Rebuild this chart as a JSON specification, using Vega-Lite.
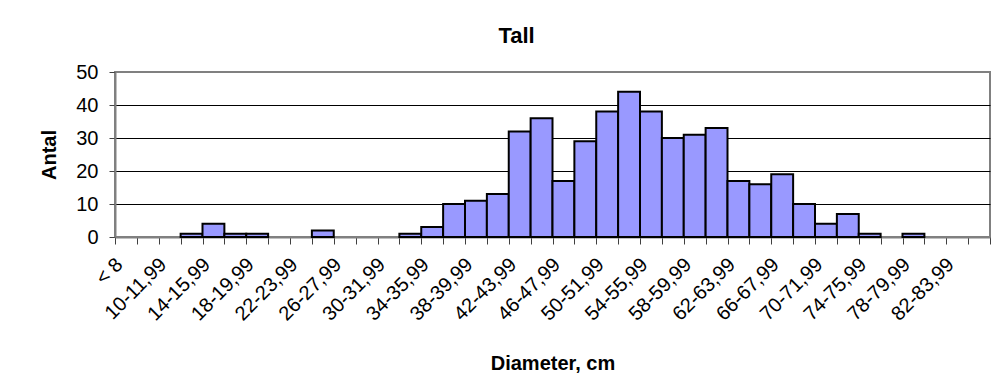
{
  "$schema": "https://vega.github.io/schema/vega-lite/v6.json",
  "width": 875,
  "height": 165,
  "autosize": {"type": "none"},
  "padding": {"left": 115, "top": 72, "right": 9, "bottom": 155},
  "background": "white",
  "config": {
    "font": "Liberation Sans",
    "view": {"stroke": "#808080", "strokeWidth": 2}
  },
  "title": {
    "text": "Tall",
    "font": "Liberation Sans",
    "fontSize": 22,
    "fontWeight": "bold",
    "color": "black",
    "anchor": "middle",
    "dx": -36,
    "offset": 14
  },
  "data": {
    "values": [
      {"Diameter": "< 8", "Antal": 0},
      {"Diameter": "8-9,99", "Antal": 0},
      {"Diameter": "10-11,99", "Antal": 0},
      {"Diameter": "12-13,99", "Antal": 1},
      {"Diameter": "14-15,99", "Antal": 4},
      {"Diameter": "16-17,99", "Antal": 1},
      {"Diameter": "18-19,99", "Antal": 1},
      {"Diameter": "20-21,99", "Antal": 0},
      {"Diameter": "22-23,99", "Antal": 0},
      {"Diameter": "24-25,99", "Antal": 2},
      {"Diameter": "26-27,99", "Antal": 0},
      {"Diameter": "28-29,99", "Antal": 0},
      {"Diameter": "30-31,99", "Antal": 0},
      {"Diameter": "32-33,99", "Antal": 1},
      {"Diameter": "34-35,99", "Antal": 3},
      {"Diameter": "36-37,99", "Antal": 10},
      {"Diameter": "38-39,99", "Antal": 11},
      {"Diameter": "40-41,99", "Antal": 13},
      {"Diameter": "42-43,99", "Antal": 32},
      {"Diameter": "44-45,99", "Antal": 36},
      {"Diameter": "46-47,99", "Antal": 17},
      {"Diameter": "48-49,99", "Antal": 29},
      {"Diameter": "50-51,99", "Antal": 38},
      {"Diameter": "52-53,99", "Antal": 44},
      {"Diameter": "54-55,99", "Antal": 38},
      {"Diameter": "56-57,99", "Antal": 30},
      {"Diameter": "58-59,99", "Antal": 31},
      {"Diameter": "60-61,99", "Antal": 33},
      {"Diameter": "62-63,99", "Antal": 17},
      {"Diameter": "64-65,99", "Antal": 16},
      {"Diameter": "66-67,99", "Antal": 19},
      {"Diameter": "68-69,99", "Antal": 10},
      {"Diameter": "70-71,99", "Antal": 4},
      {"Diameter": "72-73,99", "Antal": 7},
      {"Diameter": "74-75,99", "Antal": 1},
      {"Diameter": "76-77,99", "Antal": 0},
      {"Diameter": "78-79,99", "Antal": 1},
      {"Diameter": "80-81,99", "Antal": 0},
      {"Diameter": "82-83,99", "Antal": 0},
      {"Diameter": "84-85,99", "Antal": 0}
    ]
  },
  "mark": {"type": "bar", "fill": "#9999FF", "stroke": "black", "strokeWidth": 2},
  "encoding": {
    "x": {
      "field": "Diameter",
      "type": "nominal",
      "sort": null,
      "scale": {"paddingInner": 0, "paddingOuter": 0},
      "axis": {
        "title": "Diameter, cm",
        "titleFont": "Liberation Sans",
        "titleFontSize": 20,
        "titleFontWeight": "bold",
        "titleColor": "black",
        "titleY": 116,
        "titleBaseline": "top",
        "labelAngle": -45,
        "labelFont": "Liberation Sans",
        "labelFontSize": 20,
        "labelColor": "black",
        "labelPadding": 10,
        "labelOffset": -14,
        "labelOverlap": false,
        "labelExpr": "(datum.label == '< 8' || toNumber(split(datum.label, '-')[0]) % 4 == 2) ? datum.label : ''",
        "tickBand": "extent",
        "tickSize": 7,
        "tickColor": "#404040",
        "tickWidth": 1,
        "domainColor": "#808080",
        "domainWidth": 2,
        "grid": false
      }
    },
    "y": {
      "field": "Antal",
      "type": "quantitative",
      "scale": {"domain": [0, 50], "nice": false},
      "axis": {
        "title": "Antal",
        "titleFont": "Liberation Sans",
        "titleFontSize": 20,
        "titleFontWeight": "bold",
        "titleColor": "black",
        "titlePadding": 16,
        "values": [0, 10, 20, 30, 40, 50],
        "labelFont": "Liberation Sans",
        "labelFontSize": 20,
        "labelColor": "black",
        "labelPadding": 11,
        "tickSize": 6,
        "tickColor": "#404040",
        "domainColor": "#808080",
        "domainWidth": 2,
        "grid": true,
        "gridColor": {"condition": {"test": "datum.value == 50 || datum.value == 0", "value": "#808080"}, "value": "black"},
        "gridWidth": 1
      }
    },
    "opacity": {
      "condition": {"test": "datum.Antal == 0", "value": 0},
      "value": 1
    }
  }
}
